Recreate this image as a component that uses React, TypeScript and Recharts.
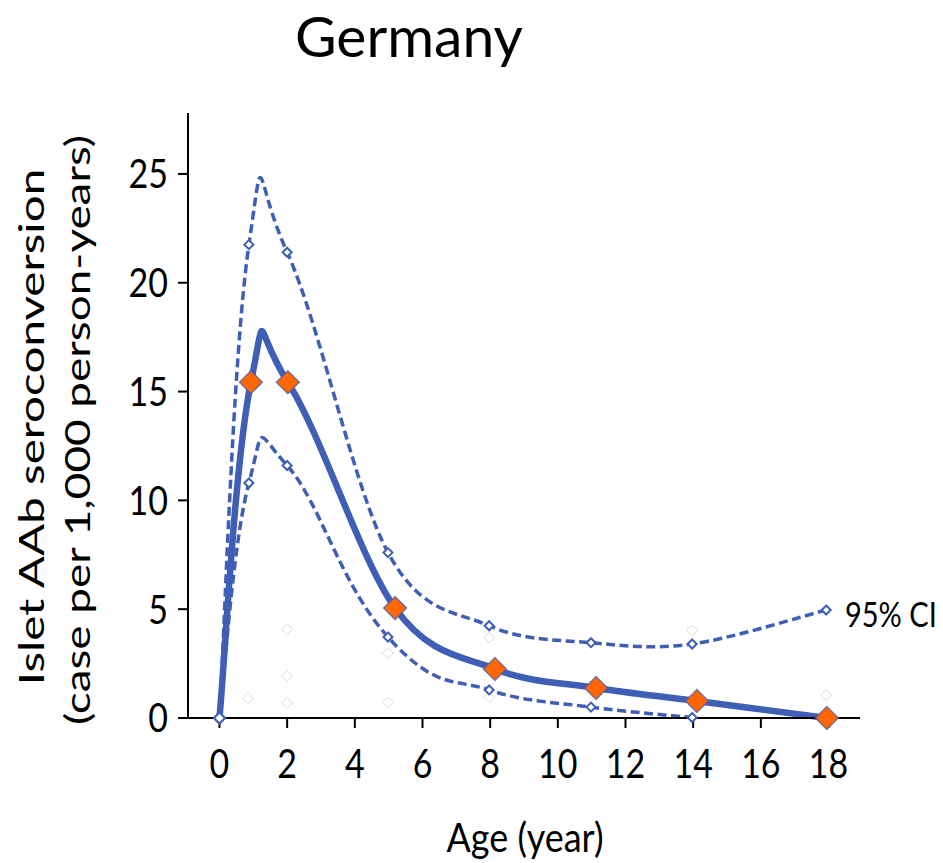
import React from "react"
import { ComposedChart, Line, Scatter, XAxis, YAxis, Customized } from "recharts"

// age (years) and seroconversion rate (cases per 1,000 person-years)
const ageMain = [0, 0.93, 2.02, 5.19, 8.14, 11.13, 14.11, 17.95]
const rateMain = [0, 15.43, 15.43, 5.05, 2.25, 1.38, 0.78, 0]

const ageCi = [0, 0.87, 2.0, 4.98, 7.97, 10.98, 13.97, 17.93]
const upperCi = [0, 21.75, 21.4, 7.6, 4.24, 3.46, 3.4, 4.96]
const lowerCi = [0, 10.8, 11.6, 3.72, 1.29, 0.5, 0.02]

// light background markers
const ageFaint = [0.84, 2.0, 2.0, 2.0, 4.98, 4.98, 7.97, 7.97, 10.98, 13.97, 17.93]
const rateFaint = [0.92, 4.08, 1.93, 0.69, 2.98, 0.73, 3.7, 0.96, 1.15, 4.04, 1.05]

const xTicks = [0, 2, 4, 6, 8, 10, 12, 14, 16, 18]
const yTicks = [0, 5, 10, 15, 20, 25]

const BLUE = "#3F5EB5"
const ORANGE = "#FF6600"
const FONT = "Lato, 'Noto Sans', sans-serif"

const zip = (xs: number[], ys: number[]) => ys.map((y, i) => ({ x: xs[i], y }))

const mainData = zip(ageMain, rateMain)
const upperData = zip(ageCi, upperCi)
const lowerData = zip(ageCi, lowerCi)
const faintData = zip(ageFaint, rateFaint)

// smoothed line: cubic bezier through every point, with a fuller bulge
// over the segment that carries the maximum
const smooth = (kRest: number, kPeak: number) => (context: any) => {
  let pts: number[][] = []
  return {
    areaStart() {},
    areaEnd() {},
    lineStart() {
      pts = []
    },
    point(x: number, y: number) {
      pts.push([+x, +y])
    },
    lineEnd() {
      const n = pts.length
      if (!n) return
      const at = (i: number) => pts[Math.min(Math.max(i, 0), n - 1)]
      const ks = pts.map(() => kRest)
      for (let i = 1; i < n - 2; i++) {
        if (at(i)[1] < at(i - 1)[1] && at(i + 1)[1] < at(i + 2)[1]) {
          ks[i] = kPeak
          ks[i + 1] = kPeak
        }
      }
      context.moveTo(pts[0][0], pts[0][1])
      for (let i = 0; i < n - 1; i++) {
        const p0 = at(i - 1)
        const p1 = at(i)
        const p2 = at(i + 1)
        const p3 = at(i + 2)
        const a = ks[i]
        const b = ks[i + 1]
        context.bezierCurveTo(
          p1[0] + (p2[0] - p0[0]) * a,
          p1[1] + (p2[1] - p0[1]) * a,
          p2[0] - (p3[0] - p1[0]) * b,
          p2[1] - (p3[1] - p1[1]) * b,
          p2[0],
          p2[1]
        )
      }
    },
  }
}

const curve = smooth(1 / 6, 0.24) as any

const diamond = (cx: number, cy: number, r: number) =>
  `M${cx},${cy - r}L${cx + r},${cy}L${cx},${cy + r}L${cx - r},${cy}Z`

const ciDot = (props: any) => {
  const { cx, cy, index } = props
  const r = index === 0 ? 5.5 : 4.5
  return <path key={`ci-${index}`} d={diamond(cx, cy, r)} fill="#fff" stroke={BLUE} strokeWidth={2} />
}

const mainDot = (props: any) => {
  const { cx, cy, index } = props
  if (index === 0) return <g key={`m-${index}`} />
  return (
    <path
      key={`m-${index}`}
      d={diamond(cx, cy, 11.5)}
      fill={ORANGE}
      stroke={BLUE}
      strokeWidth={1.5}
      strokeOpacity={0.7}
    />
  )
}

const faintShape = (props: any) => {
  const { cx, cy } = props
  return <path d={diamond(cx, cy, 5.5)} fill="#fff" stroke="#d9d9d9" strokeWidth={1} />
}

// tick labels in a slightly tall face
const XTick = (props: any) => {
  const { x, y, payload } = props
  return (
    <text transform={`translate(${x},${y}) scale(1,1.18)`} textAnchor="middle" dy="0.72em" fontSize={34} fontFamily={FONT} fill="#000">
      {payload.value}
    </text>
  )
}

const YTick = (props: any) => {
  const { x, y, payload } = props
  return (
    <text transform={`translate(${x},${y}) scale(1,1.18)`} textAnchor="end" dy="0.36em" fontSize={34} fontFamily={FONT} fill="#000">
      {payload.value}
    </text>
  )
}

const Labels = () => (
  <g fontFamily={FONT} fill="#000">
    <text x={409} y={57} fontSize={57} textAnchor="middle">Germany</text>
    <text transform="translate(525,852) scale(1,1.12)" fontSize={36} textAnchor="middle">Age (year)</text>
    <text transform="translate(845,627) scale(1,1.2)" fontSize={29}>95% CI</text>
    <text transform="translate(44,427) rotate(-90) scale(1.4,1)" fontSize={34} textAnchor="middle">
      Islet AAb seroconversion
    </text>
    <text transform="translate(90,430) rotate(-90) scale(1.35,1)" fontSize={34} textAnchor="middle">
      (case per 1,000 person-years)
    </text>
  </g>
)

export default function App() {
  return (
    <div style={{ position: "absolute", left: 0, top: 0, background: "#fff" }}>
      <ComposedChart width={943} height={863} margin={{ top: 113, right: 83, bottom: 45, left: 108 }}>
        <XAxis
          type="number"
          dataKey="x"
          domain={[-0.93, 18.93]}
          ticks={xTicks}
          height={100}
          tickSize={10}
          tickMargin={21}
          tick={<XTick />}
          axisLine={{ stroke: "#000", strokeWidth: 2 }}
          tickLine={{ stroke: "#000", strokeWidth: 2 }}
        />
        <YAxis
          type="number"
          dataKey="y"
          domain={[0, 27.8]}
          ticks={yTicks}
          width={80}
          tickSize={10}
          tickMargin={10}
          tick={<YTick />}
          axisLine={{ stroke: "#000", strokeWidth: 2 }}
          tickLine={{ stroke: "#000", strokeWidth: 2 }}
        />
        <Scatter data={faintData} shape={faintShape} isAnimationActive={false} />
        <Line
          data={upperData}
          dataKey="y"
          type={curve}
          stroke={BLUE}
          strokeWidth={3.5}
          strokeDasharray="9 4.5"
          dot={ciDot}
          activeDot={false}
          isAnimationActive={false}
        />
        <Line
          data={lowerData}
          dataKey="y"
          type={curve}
          stroke={BLUE}
          strokeWidth={3.5}
          strokeDasharray="9 4.5"
          dot={ciDot}
          activeDot={false}
          isAnimationActive={false}
        />
        <Line
          data={mainData}
          dataKey="y"
          type={curve}
          stroke={BLUE}
          strokeWidth={6.5}
          dot={mainDot}
          activeDot={false}
          isAnimationActive={false}
        />
        <Customized component={Labels} />
      </ComposedChart>
    </div>
  )
}
